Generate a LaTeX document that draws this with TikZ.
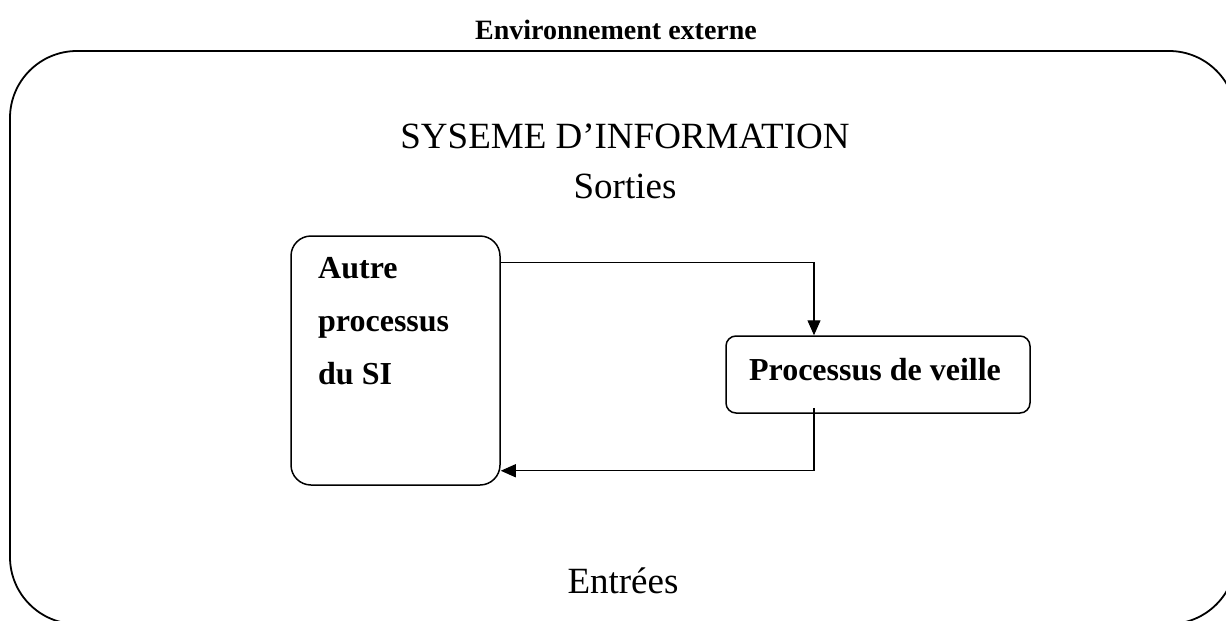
\documentclass[tikz,border=0pt]{standalone}
\usepackage{fontspec}
\setmainfont{Liberation Serif}
\usetikzlibrary{arrows.meta}
\tikzset{
  frame/.style={draw, line width=1.8pt, rounded corners=67pt, inner sep=0pt},
  procbox/.style={draw, line width=1.5pt, inner sep=0pt},
  conn/.style={line width=1.3pt, -{Triangle[length=15pt,width=13pt]}},
  bigtxt/.style={font=\fontsize{37}{40}\selectfont, inner sep=0pt},
  boldtxt/.style={font=\fontsize{32}{53}\selectfont\bfseries, inner sep=0pt}
}
\begin{document}
\begin{tikzpicture}[x=1pt,y=-1pt]
\useasboundingbox (0,0) rectangle (1226,621);
\begin{scope}
\clip (0,0) rectangle (1226,621);
\node[frame, minimum width=1226pt, minimum height=573pt] (si) at (623,337.5) {};
\end{scope}
\node[font=\fontsize{28}{32}\selectfont\bfseries, inner sep=0pt] (env) at (616,30) {Environnement externe};
\node[bigtxt] (titre) at (625,136) {SYSEME D’INFORMATION};
\node[bigtxt] (sorties) at (625,186) {Sorties};
\node[bigtxt] (entrees) at (623,581) {Entrées};
\node[procbox, rounded corners=20pt, minimum width=209pt, minimum height=249pt] (autre) at (395.5,360.5) {};
\node[boldtxt, anchor=north west, align=left] (autretxt) at (318,257) {Autre\\processus\\du SI};
\node[procbox, rounded corners=10pt, minimum width=304pt, minimum height=77pt] (veille) at (878,374.5) {};
\node[boldtxt] (veilletxt) at (875,370) {Processus de veille};
\draw[conn] ([yshift=-27pt]autre.north east) -| ([xshift=-64pt]veille.north);
\draw[conn] ([xshift=-64pt,yshift=6pt]veille.south) |- ([yshift=15pt]autre.south east);
\end{tikzpicture}
\end{document}
